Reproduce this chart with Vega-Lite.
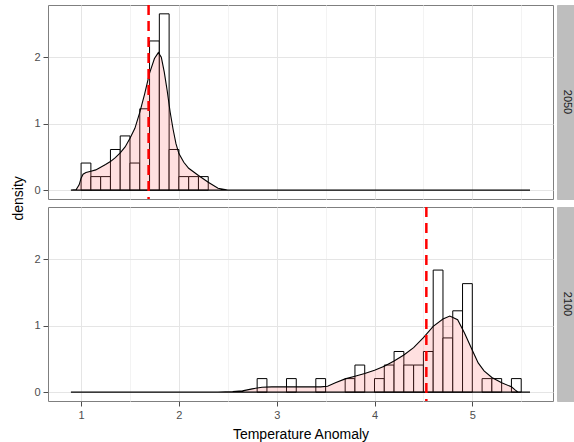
{
  "$schema": "https://vega.github.io/schema/vega-lite/v6.json",
  "background": "white",
  "padding": {"left": 12, "top": 3, "right": 0, "bottom": 0},
  "title": {"text": "density", "orient": "left", "anchor": "middle", "font": "Liberation Sans", "fontSize": 14, "fontWeight": "normal", "color": "#000000", "offset": 7, "dx": 24},
  "datasets": {
    "bins": [
      {"year": "2050", "bin_start": 1.0, "bin_end": 1.1, "density": 0.408},
      {"year": "2050", "bin_start": 1.1, "bin_end": 1.2, "density": 0.204},
      {"year": "2050", "bin_start": 1.2, "bin_end": 1.3, "density": 0.204},
      {"year": "2050", "bin_start": 1.3, "bin_end": 1.4, "density": 0.612},
      {"year": "2050", "bin_start": 1.4, "bin_end": 1.5, "density": 0.816},
      {"year": "2050", "bin_start": 1.5, "bin_end": 1.6, "density": 0.408},
      {"year": "2050", "bin_start": 1.6, "bin_end": 1.7, "density": 1.224},
      {"year": "2050", "bin_start": 1.7, "bin_end": 1.8, "density": 2.245},
      {"year": "2050", "bin_start": 1.8, "bin_end": 1.9, "density": 2.653},
      {"year": "2050", "bin_start": 1.9, "bin_end": 2.0, "density": 0.612},
      {"year": "2050", "bin_start": 2.0, "bin_end": 2.1, "density": 0.204},
      {"year": "2050", "bin_start": 2.1, "bin_end": 2.2, "density": 0.204},
      {"year": "2050", "bin_start": 2.2, "bin_end": 2.3, "density": 0.204},
      {"year": "2100", "bin_start": 2.8, "bin_end": 2.9, "density": 0.204},
      {"year": "2100", "bin_start": 3.1, "bin_end": 3.2, "density": 0.204},
      {"year": "2100", "bin_start": 3.4, "bin_end": 3.5, "density": 0.204},
      {"year": "2100", "bin_start": 3.7, "bin_end": 3.8, "density": 0.204},
      {"year": "2100", "bin_start": 3.8, "bin_end": 3.9, "density": 0.408},
      {"year": "2100", "bin_start": 4.0, "bin_end": 4.1, "density": 0.204},
      {"year": "2100", "bin_start": 4.1, "bin_end": 4.2, "density": 0.408},
      {"year": "2100", "bin_start": 4.2, "bin_end": 4.3, "density": 0.612},
      {"year": "2100", "bin_start": 4.3, "bin_end": 4.4, "density": 0.408},
      {"year": "2100", "bin_start": 4.4, "bin_end": 4.5, "density": 0.408},
      {"year": "2100", "bin_start": 4.5, "bin_end": 4.6, "density": 0.612},
      {"year": "2100", "bin_start": 4.6, "bin_end": 4.7, "density": 1.837},
      {"year": "2100", "bin_start": 4.7, "bin_end": 4.8, "density": 0.816},
      {"year": "2100", "bin_start": 4.8, "bin_end": 4.9, "density": 1.224},
      {"year": "2100", "bin_start": 4.9, "bin_end": 5.0, "density": 1.633},
      {"year": "2100", "bin_start": 5.1, "bin_end": 5.2, "density": 0.204},
      {"year": "2100", "bin_start": 5.2, "bin_end": 5.3, "density": 0.204},
      {"year": "2100", "bin_start": 5.4, "bin_end": 5.5, "density": 0.204}
    ],
    "dens": [
      {"year": "2050", "x": 0.896, "density": 0},
      {"year": "2050", "x": 0.95, "density": 0.01},
      {"year": "2050", "x": 0.98, "density": 0.08},
      {"year": "2050", "x": 1.0, "density": 0.18},
      {"year": "2050", "x": 1.02, "density": 0.24},
      {"year": "2050", "x": 1.05, "density": 0.265},
      {"year": "2050", "x": 1.1, "density": 0.285},
      {"year": "2050", "x": 1.15, "density": 0.305},
      {"year": "2050", "x": 1.2, "density": 0.345},
      {"year": "2050", "x": 1.25, "density": 0.385},
      {"year": "2050", "x": 1.3, "density": 0.43},
      {"year": "2050", "x": 1.35, "density": 0.49},
      {"year": "2050", "x": 1.4, "density": 0.56},
      {"year": "2050", "x": 1.45, "density": 0.65},
      {"year": "2050", "x": 1.5, "density": 0.78},
      {"year": "2050", "x": 1.55, "density": 0.93},
      {"year": "2050", "x": 1.6, "density": 1.17},
      {"year": "2050", "x": 1.65, "density": 1.45},
      {"year": "2050", "x": 1.7, "density": 1.76},
      {"year": "2050", "x": 1.75, "density": 1.98},
      {"year": "2050", "x": 1.79, "density": 2.07},
      {"year": "2050", "x": 1.82, "density": 2.0},
      {"year": "2050", "x": 1.85, "density": 1.78},
      {"year": "2050", "x": 1.88, "density": 1.5},
      {"year": "2050", "x": 1.91, "density": 1.18},
      {"year": "2050", "x": 1.94, "density": 0.92},
      {"year": "2050", "x": 1.97, "density": 0.7},
      {"year": "2050", "x": 2.0, "density": 0.55},
      {"year": "2050", "x": 2.05, "density": 0.42},
      {"year": "2050", "x": 2.1, "density": 0.33},
      {"year": "2050", "x": 2.2, "density": 0.22},
      {"year": "2050", "x": 2.3, "density": 0.12},
      {"year": "2050", "x": 2.4, "density": 0.03},
      {"year": "2050", "x": 2.5, "density": 0.0},
      {"year": "2050", "x": 5.59, "density": 0},
      {"year": "2100", "x": 0.896, "density": 0},
      {"year": "2100", "x": 2.4, "density": 0},
      {"year": "2100", "x": 2.55, "density": 0.01},
      {"year": "2100", "x": 2.65, "density": 0.02},
      {"year": "2100", "x": 2.75, "density": 0.05},
      {"year": "2100", "x": 2.85, "density": 0.075},
      {"year": "2100", "x": 2.95, "density": 0.08},
      {"year": "2100", "x": 3.1, "density": 0.08},
      {"year": "2100", "x": 3.3, "density": 0.08},
      {"year": "2100", "x": 3.45, "density": 0.08},
      {"year": "2100", "x": 3.52, "density": 0.09},
      {"year": "2100", "x": 3.6, "density": 0.14},
      {"year": "2100", "x": 3.7, "density": 0.2},
      {"year": "2100", "x": 3.8, "density": 0.24},
      {"year": "2100", "x": 3.9, "density": 0.28},
      {"year": "2100", "x": 4.0, "density": 0.33},
      {"year": "2100", "x": 4.1, "density": 0.39},
      {"year": "2100", "x": 4.2, "density": 0.47},
      {"year": "2100", "x": 4.3, "density": 0.56},
      {"year": "2100", "x": 4.4, "density": 0.67},
      {"year": "2100", "x": 4.5, "density": 0.82},
      {"year": "2100", "x": 4.6, "density": 0.99},
      {"year": "2100", "x": 4.7, "density": 1.1},
      {"year": "2100", "x": 4.77, "density": 1.145},
      {"year": "2100", "x": 4.85, "density": 1.09},
      {"year": "2100", "x": 4.92, "density": 0.89},
      {"year": "2100", "x": 5.0, "density": 0.63},
      {"year": "2100", "x": 5.06, "density": 0.44},
      {"year": "2100", "x": 5.12, "density": 0.32},
      {"year": "2100", "x": 5.2, "density": 0.22},
      {"year": "2100", "x": 5.3, "density": 0.14},
      {"year": "2100", "x": 5.4, "density": 0.08},
      {"year": "2100", "x": 5.44, "density": 0.03},
      {"year": "2100", "x": 5.47, "density": 0.0},
      {"year": "2100", "x": 5.59, "density": 0}
    ],
    "means": [
      {"year": "2050", "mean": 1.69},
      {"year": "2100", "mean": 4.53}
    ],
    "strips": [
      {"year": "2050"},
      {"year": "2100"}
    ]
  },
  "config": {
    "font": "Liberation Sans",
    "view": {"stroke": "#7F7F7F", "strokeWidth": 1},
    "axis": {
      "domain": false,
      "labelFont": "Liberation Sans",
      "labelFontSize": 11,
      "labelColor": "#4D4D4D",
      "tickColor": "#4D4D4D",
      "tickSize": 5,
      "labelPadding": 3,
      "titleFont": "Liberation Sans",
      "titleFontSize": 14,
      "titleFontWeight": "normal",
      "titleColor": "#000000"
    }
  },
  "spacing": 4,
  "vconcat": [
    {
      "spacing": 2,
      "hconcat": [
        {
          "width": 505,
          "height": 194,
          "layer": [
            {
              "data": {"name": "bins"},
              "transform": [{"filter": "datum.year == '2050'"}],
              "mark": {"type": "rect", "fill": "white", "stroke": "black", "strokeWidth": 1},
              "encoding": {
                "x": {"field": "bin_start", "type": "quantitative",
                  "scale": {"domain": [0.6616, 5.825], "nice": false, "zero": false},
                  "axis": {"values": [1, 1.5, 2, 2.5, 3, 3.5, 4, 4.5, 5, 5.5], "labels": false, "ticks": false, "title": null, "grid": true,
                    "gridColor": {"condition": {"test": "datum.value % 1 !== 0", "value": "#F3F3F3"}, "value": "#E5E5E5"},
                    "minExtent": 0, "maxExtent": 0}},
                "x2": {"field": "bin_end"},
                "y": {"field": "density", "type": "quantitative",
                  "scale": {"domain": [-0.133, 2.786], "nice": false, "zero": false},
                  "axis": {"values": [0, 0.5, 1, 1.5, 2, 2.5], "title": null, "grid": true,
                    "labelExpr": "datum.value % 1 === 0 ? format(datum.value, 'd') : ''",
                    "tickOpacity": {"condition": {"test": "datum.value % 1 !== 0", "value": 0}, "value": 1},
                    "gridColor": {"condition": {"test": "datum.value % 1 !== 0", "value": "#F3F3F3"}, "value": "#E5E5E5"}}},
                "y2": {"datum": 0}
              }
            },
            {
              "data": {"name": "dens"},
              "transform": [{"filter": "datum.year == '2050'"}],
              "mark": {"type": "area", "fill": "#FF6666", "fillOpacity": 0.2, "stroke": "black", "strokeWidth": 1.1},
              "encoding": {
                "x": {"field": "x", "type": "quantitative"},
                "y": {"field": "density", "type": "quantitative"},
                "y2": {"datum": 0}
              }
            },
            {
              "data": {"name": "means"},
              "transform": [{"filter": "datum.year == '2050'"}],
              "mark": {"type": "rule", "color": "#FF0000", "strokeDash": [10, 6], "strokeWidth": 2.5},
              "encoding": {
                "x": {"field": "mean", "type": "quantitative"}
              }
            }
          ]
        },
        {
          "width": 20,
          "height": 194,
          "view": {"fill": "#BEBEBE", "stroke": "#BEBEBE"},
          "data": {"name": "strips"},
          "transform": [{"filter": "datum.year == '2050'"}],
          "mark": {"type": "text", "angle": 90, "fontSize": 11, "color": "#1A1A1A", "font": "Liberation Sans"},
          "encoding": {"text": {"field": "year"}}
        }
      ]
    },
    {
      "spacing": 2,
      "hconcat": [
        {
          "width": 505,
          "height": 194,
          "layer": [
            {
              "data": {"name": "bins"},
              "transform": [{"filter": "datum.year == '2100'"}],
              "mark": {"type": "rect", "fill": "white", "stroke": "black", "strokeWidth": 1},
              "encoding": {
                "x": {"field": "bin_start", "type": "quantitative",
                  "scale": {"domain": [0.6616, 5.825], "nice": false, "zero": false},
                  "axis": {"values": [1, 1.5, 2, 2.5, 3, 3.5, 4, 4.5, 5, 5.5], "title": "Temperature Anomaly", "titlePadding": 7, "grid": true,
                    "labelExpr": "datum.value % 1 === 0 ? format(datum.value, 'd') : ''",
                    "tickOpacity": {"condition": {"test": "datum.value % 1 !== 0", "value": 0}, "value": 1},
                    "gridColor": {"condition": {"test": "datum.value % 1 !== 0", "value": "#F3F3F3"}, "value": "#E5E5E5"}}},
                "x2": {"field": "bin_end"},
                "y": {"field": "density", "type": "quantitative",
                  "scale": {"domain": [-0.133, 2.786], "nice": false, "zero": false},
                  "axis": {"values": [0, 0.5, 1, 1.5, 2, 2.5], "title": null, "grid": true,
                    "labelExpr": "datum.value % 1 === 0 ? format(datum.value, 'd') : ''",
                    "tickOpacity": {"condition": {"test": "datum.value % 1 !== 0", "value": 0}, "value": 1},
                    "gridColor": {"condition": {"test": "datum.value % 1 !== 0", "value": "#F3F3F3"}, "value": "#E5E5E5"}}},
                "y2": {"datum": 0}
              }
            },
            {
              "data": {"name": "dens"},
              "transform": [{"filter": "datum.year == '2100'"}],
              "mark": {"type": "area", "fill": "#FF6666", "fillOpacity": 0.2, "stroke": "black", "strokeWidth": 1.1},
              "encoding": {
                "x": {"field": "x", "type": "quantitative"},
                "y": {"field": "density", "type": "quantitative"},
                "y2": {"datum": 0}
              }
            },
            {
              "data": {"name": "means"},
              "transform": [{"filter": "datum.year == '2100'"}],
              "mark": {"type": "rule", "color": "#FF0000", "strokeDash": [10, 6], "strokeWidth": 2.5},
              "encoding": {
                "x": {"field": "mean", "type": "quantitative"}
              }
            }
          ]
        },
        {
          "width": 20,
          "height": 194,
          "view": {"fill": "#BEBEBE", "stroke": "#BEBEBE"},
          "data": {"name": "strips"},
          "transform": [{"filter": "datum.year == '2100'"}],
          "mark": {"type": "text", "angle": 90, "fontSize": 11, "color": "#1A1A1A", "font": "Liberation Sans"},
          "encoding": {"text": {"field": "year"}}
        }
      ]
    }
  ]
}
